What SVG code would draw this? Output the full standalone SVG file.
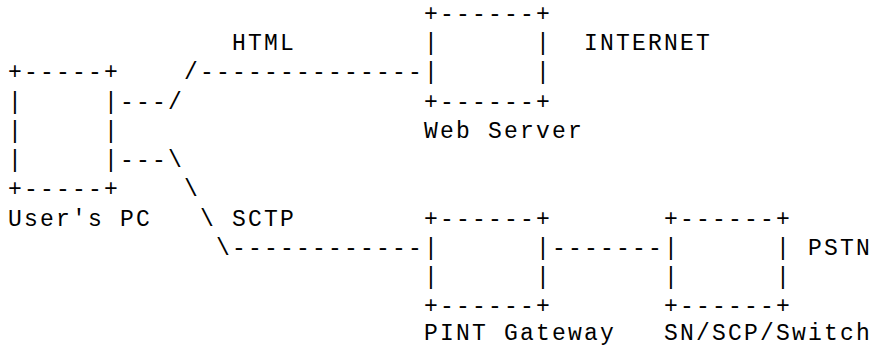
<svg xmlns="http://www.w3.org/2000/svg" width="874" height="347" viewBox="0 0 874 347" xml:space="preserve">
<style>
text{font-family:"Liberation Mono","Courier New",monospace;font-size:23px;letter-spacing:2.2px;fill:#000;white-space:pre}
</style>
<rect width="874" height="347" fill="#fff"/>
<g id="users-pc">
<text x="8" y="79.4">+-----+</text>
<text x="8" y="108.6">|     |</text>
<text x="8" y="137.9">|     |</text>
<text x="8" y="167.1">|     |</text>
<text x="8" y="196.4">+-----+</text>
<text x="8" y="225.6">User's PC</text>
</g>
<g id="web-server">
<text x="424" y="20.9">+------+</text>
<text x="424" y="50.1">|      |</text>
<text x="424" y="79.4">|      |</text>
<text x="424" y="108.6">+------+</text>
<text x="424" y="137.9">Web Server</text>
</g>
<g id="internet-label">
<text x="584" y="50.1">INTERNET</text>
</g>
<g id="pint-gateway">
<text x="424" y="225.6">+------+</text>
<text x="424" y="254.9">|      |</text>
<text x="424" y="284.1">|      |</text>
<text x="424" y="313.4">+------+</text>
<text x="424" y="340">PINT Gateway</text>
</g>
<g id="sn-scp-switch">
<text x="664" y="225.6">+------+</text>
<text x="664" y="254.9">|      |</text>
<text x="664" y="284.1">|      |</text>
<text x="664" y="313.4">+------+</text>
<text x="664" y="340">SN/SCP/Switch</text>
</g>
<g id="pstn-label">
<text x="808" y="254.9">PSTN</text>
</g>
<g id="connectors">
<text x="232" y="50.1">HTML</text>
<text x="184" y="79.4">/--------------</text>
<text x="120" y="108.6">---/</text>
<text x="120" y="167.1">---\</text>
<text x="184" y="196.4">\</text>
<text x="200" y="225.6">\</text>
<text x="232" y="225.6">SCTP</text>
<text x="216" y="254.9">\------------</text>
<text x="552" y="254.9">-------</text>
</g>
</svg>
